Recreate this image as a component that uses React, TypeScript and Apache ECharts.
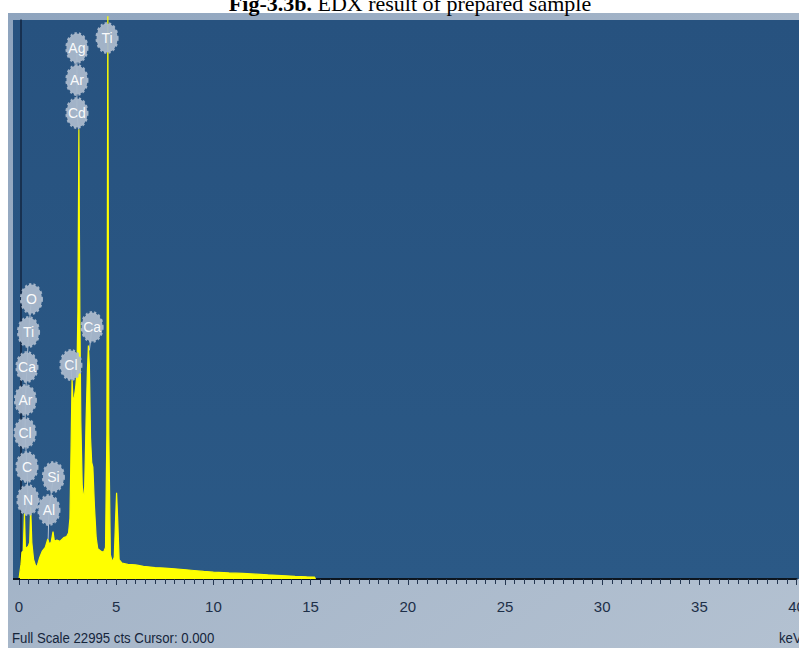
import React, { useEffect, useRef } from "react";
import * as echarts from "echarts";

// ---- Data ----
const energyKeV = [
  0.0, 0.1, 0.15, 0.22, 0.28, 0.33, 0.4, 0.48, 0.55, 0.6, 0.66, 0.75, 0.85, 0.93,
  1.05, 1.2, 1.35, 1.48, 1.55, 1.65, 1.75, 1.82, 1.95, 2.1, 2.3, 2.45, 2.55, 2.62,
  2.68, 2.73, 2.78, 2.85, 2.92, 2.98, 3.03, 3.08, 3.13, 3.18, 3.25, 3.32, 3.38,
  3.45, 3.52, 3.57, 3.62, 3.68, 3.74, 3.8, 3.88, 3.97, 4.05, 4.2, 4.35, 4.45, 4.52,
  4.57, 4.62, 4.7, 4.8, 4.9, 4.97, 5.02, 5.08, 5.15, 5.3, 5.6, 6.0, 6.4, 7.0, 7.5,
  8.0, 8.6, 9.0, 9.5, 10.0, 10.8, 11.5, 12.2, 12.8, 13.5, 14.2, 14.8, 15.2, 15.25,
];
const countsCts = [
  0, 600, 1100, 1150, 2700, 1250, 1300, 1350, 1500, 2950, 1500, 800, 560, 520,
  850, 1150, 1300, 1650, 1450, 1500, 1950, 1550, 1600, 1550, 1700, 1750, 1900, 2500,
  5500, 8200, 7300, 7500, 7900, 8500, 11000, 18500, 11000, 6500, 3900, 3200, 3800,
  6500, 8600, 9600, 8800, 5800, 4800, 4600, 3000, 1700, 1250, 1150, 1100, 1300, 6000,
  23150, 6000, 1000, 700, 900, 2500, 3550, 2400, 800, 650, 600, 580, 520, 470, 450,
  420, 380, 350, 310, 280, 250, 230, 200, 170, 140, 110, 90, 80, 0,
];
const fullScaleCts = 22995;
const xMin = 0;
const xMax = 40;
const xStep = 5;

// element tags (bubble labels) placed at energy / count coordinates
const tagNames = ["Ti", "Ag", "Ar", "Cd", "Ca", "Cl", "O", "Ti", "Ca", "Ar", "Cl", "C", "N", "Si", "Al"];
const tagKeV = [4.53, 2.98, 2.98, 2.98, 3.76, 2.67, 0.64, 0.49, 0.41, 0.33, 0.31, 0.41, 0.46, 1.77, 1.54];
const tagCts = [22257, 21845, 20529, 19171, 10367, 8804, 11519, 10162, 8722, 7364, 6006, 4608, 3250, 4196, 2839];

// connector lines from the tag stacks to their peaks
const linkAgKeV = [2.98, 2.98, 3.06];
const linkAgCts = [21845, 19171, 18500];
const linkLeftKeV = [0.64, 0.49, 0.41, 0.33, 0.31, 0.41, 0.46, 0.3];
const linkLeftCts = [11519, 10162, 8722, 7364, 6006, 4608, 3250, 2700];
const linkSiKeV = [1.77, 1.54, 1.5];
const linkSiCts = [4196, 2839, 1650];
const linkClKeV = [2.67, 2.72];
const linkClCts = [8804, 8200];
const linkCaKeV = [3.76, 3.62];
const linkCaCts = [10367, 9400];

const titleBold = "Fig-3.3b.";
const titleRest = " EDX result of prepared sample";
const footerText = "Full Scale 22995 cts Cursor: 0.000";
const unitText = "keV";

const sans = "'Liberation Sans', Arial, sans-serif";

function pairs(xs: number[], ys: number[]) {
  return xs.map((x, i) => [x, ys[i]]);
}

export default function App() {
  const ref = useRef<HTMLDivElement>(null);
  useEffect(() => {
    if (!ref.current) return;
    const chart = echarts.init(ref.current, undefined, { renderer: "svg" });
    const linkStyle = { color: "#b4c2d4", width: 1 };
    const linkSeries = [
      [linkAgKeV, linkAgCts],
      [linkLeftKeV, linkLeftCts],
      [linkSiKeV, linkSiCts],
      [linkClKeV, linkClCts],
      [linkCaKeV, linkCaCts],
    ].map(([xs, ys]) => ({
      type: "line",
      data: pairs(xs, ys),
      symbol: "none",
      lineStyle: linkStyle,
      clip: false,
      silent: true,
      z: 3,
    }));
    chart.setOption({
      animation: false,
      backgroundColor: "#ffffff",
      grid: {
        left: 19,
        right: 2.4,
        top: 20,
        bottom: 69,
        containLabel: false,
        outerBoundsMode: "none",
      },
      graphic: [
        {
          type: "rect",
          z: -10,
          silent: true,
          shape: { x: 8, y: 13, width: 791, height: 635 },
          style: {
            fill: {
              type: "linear",
              x: 0,
              y: 0,
              x2: 1,
              y2: 1,
              colorStops: [
                { offset: 0, color: "#8ea4be" },
                { offset: 0.5, color: "#a6b6c9" },
                { offset: 1, color: "#b3c1d1" },
              ],
            },
          },
        },
        {
          type: "rect",
          z: -9,
          silent: true,
          shape: { x: 13, y: 20, width: 786, height: 559 },
          style: {
            fill: {
              type: "linear",
              x: 0,
              y: 0,
              x2: 0,
              y2: 1,
              colorStops: [
                { offset: 0, color: "#27527f" },
                { offset: 1, color: "#2b5986" },
              ],
            },
          },
        },
        {
          type: "line",
          z: 5,
          silent: true,
          shape: { x1: 13, y1: 579, x2: 20, y2: 579 },
          style: { stroke: "#0d1620", lineWidth: 2 },
        },
        {
          type: "text",
          z: 10,
          silent: true,
          x: 410,
          y: 3,
          style: {
            text: "{b|" + titleBold + "}" + titleRest,
            align: "center",
            verticalAlign: "middle",
            fontFamily: "'Liberation Serif', 'Times New Roman', serif",
            fontSize: 22,
            fill: "#000000",
            rich: {
              b: {
                fontWeight: "bold",
                fontFamily: "'Liberation Serif', 'Times New Roman', serif",
                fontSize: 22,
                fill: "#000000",
              },
            },
          },
        },
        {
          type: "text",
          z: 10,
          silent: true,
          x: 12,
          y: 638,
          scaleX: 0.88,
          style: {
            text: footerText,
            align: "left",
            verticalAlign: "middle",
            fontFamily: sans,
            fontSize: 15,
            fill: "#15253b",
          },
        },
        {
          type: "text",
          z: 10,
          silent: true,
          x: 779,
          y: 638,
          scaleX: 0.88,
          style: {
            text: unitText,
            align: "left",
            verticalAlign: "middle",
            fontFamily: sans,
            fontSize: 15,
            fill: "#15253b",
          },
        },
      ],
      xAxis: {
        type: "value",
        min: xMin,
        max: xMax,
        interval: xStep,
        axisLine: { show: true, onZero: false, lineStyle: { color: "#0d1620", width: 2 } },
        axisTick: { show: true, length: 6, lineStyle: { color: "#243650", width: 1 } },
        minorTick: { show: true, splitNumber: 10, length: 5, lineStyle: { color: "#243650", width: 1 } },
        axisLabel: {
          margin: 20,
          fontSize: 15,
          color: "#1d2f48",
          fontFamily: sans,
          showMaxLabel: true,
        },
        splitLine: { show: false },
      },
      yAxis: {
        type: "value",
        min: 0,
        max: fullScaleCts,
        offset: -1.5,
        axisLine: { show: true, lineStyle: { color: "#132640", width: 1.5 } },
        axisTick: { show: false },
        axisLabel: { show: false },
        splitLine: { show: false },
      },
      series: [
        {
          type: "line",
          data: pairs(energyKeV, countsCts),
          symbol: "none",
          showSymbol: false,
          lineStyle: { color: "#ffff00", width: 1.2 },
          areaStyle: { color: "#ffff00", opacity: 1 },
          clip: false,
          silent: true,
          z: 2,
        },
        ...linkSeries,
        {
          type: "scatter",
          data: tagNames.map((n, i) => ({ name: n, value: [tagKeV[i], tagCts[i]] })),
          symbol: "circle",
          symbolSize: [21, 29],
          clip: false,
          silent: true,
          z: 4,
          itemStyle: {
            color: "#a9b8cb",
            borderColor: "#a9b8cb",
            borderWidth: 2.5,
            borderType: "dotted",
            opacity: 0.95,
          },
          label: {
            show: true,
            position: "inside",
            formatter: (p: any) => p.name,
            color: "#ffffff",
            fontSize: 14,
            fontFamily: sans,
          },
        },
      ],
    });
    return () => chart.dispose();
  }, []);
  return (
    <div
      ref={ref}
      style={{ position: "absolute", left: 0, top: 0, width: 799, height: 648 }}
    />
  );
}
